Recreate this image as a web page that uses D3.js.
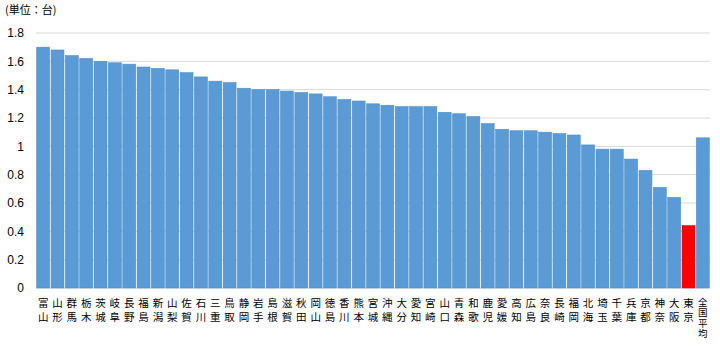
<!DOCTYPE html>
<html>
<head>
<meta charset="utf-8">
<script src="https://cdn.jsdelivr.net/npm/d3@7"></script>
<style>
  body { margin: 0; background: #fff; }
  svg { display: block; }
</style>
</head>
<body>
<div id="chart"></div>
<script>

// Data
const prefectures = ['富山', '山形', '群馬', '栃木', '茨城', '岐阜', '長野', '福島', '新潟', '山梨',
  '佐賀', '石川', '三重', '鳥取', '静岡', '岩手', '島根', '滋賀', '秋田', '岡山',
  '徳島', '香川', '熊本', '宮城', '沖縄', '大分', '愛知', '宮崎', '山口', '青森',
  '和歌', '鹿児', '愛媛', '高知', '広島', '奈良', '長崎', '福岡', '北海', '埼玉',
  '千葉', '兵庫', '京都', '神奈', '大阪', '東京', '全国平均'];
const cars = [1.70, 1.68, 1.64, 1.62, 1.60, 1.59, 1.58, 1.56, 1.55, 1.54,
  1.52, 1.49, 1.46, 1.45, 1.41, 1.40, 1.40, 1.39, 1.38, 1.37,
  1.35, 1.33, 1.32, 1.30, 1.29, 1.28, 1.28, 1.28, 1.24, 1.23,
  1.21, 1.16, 1.12, 1.11, 1.11, 1.10, 1.09, 1.08, 1.01, 0.98,
  0.98, 0.91, 0.83, 0.71, 0.64, 0.44, 1.06];
const yTicks = [0, 0.2, 0.4, 0.6, 0.8, 1, 1.2, 1.4, 1.6, 1.8];
const highlight = '東京';

// Page Dimensions
const width = 720;
const height = 346;
const margin = {top: 33, right: 10, bottom: 58, left: 36};

const svg = d3.select('div#chart').append('svg')
  .attr('width', width)
  .attr('height', height);

const x = d3.scaleBand()
  .domain(prefectures)
  .range([margin.left, width - margin.right])
  .paddingInner(0.1)
  .paddingOuter(0.05);

const y = d3.scaleLinear()
  .domain([0, 1.8])
  .range([height - margin.bottom, margin.top]);

// Gridlines
svg.append('g')
  .selectAll('line')
  .data(yTicks)
  .enter()
  .append('line')
  .attr('x1', margin.left)
  .attr('x2', width - margin.right)
  .attr('y1', d => y(d))
  .attr('y2', d => y(d))
  .style('stroke', '#d9d9d9')
  .style('stroke-width', 1);

// Y axis labels
const yAxis = svg.append('g')
  .attr('transform', `translate(${margin.left},0)`)
  .call(d3.axisLeft(y).tickValues(yTicks).tickSize(0).tickPadding(12).tickFormat(d3.format('~g')));
yAxis.select('.domain').remove();
yAxis.selectAll('text')
  .attr('font-family', 'Liberation Sans, Arial, sans-serif')
  .attr('font-size', 12)
  .attr('fill', '#000');

// Bars
svg.append('g')
  .selectAll('rect')
  .data(prefectures)
  .enter()
  .append('rect')
  .attr('x', d => x(d))
  .attr('width', x.bandwidth())
  .attr('y', (d, i) => y(cars[i]))
  .attr('height', (d, i) => y(0) - y(cars[i]))
  .style('fill', d => d === highlight ? '#ff0000' : '#5b9bd5')
  .style('stroke', d => d === highlight ? '#e00000' : '#4a8dcc')
  .style('stroke-width', 0.6);

// X labels (one character per line)
const labels = svg.append('g')
  .selectAll('text')
  .data(prefectures)
  .enter()
  .append('text')
  .attr('x', d => x(d) + x.bandwidth() / 2)
  .attr('y', d => d.length > 2 ? 305.5 : 307)
  .attr('text-anchor', 'middle')
  .attr('font-family', 'Noto Sans CJK JP, sans-serif')
  .attr('font-size', d => d.length > 2 ? 9.5 : 10.5)
  .attr('fill', '#000');

labels.selectAll('tspan')
  .data(d => d.split('').map(c => ({c: c, step: d.length > 2 ? 10.6 : 13.5})))
  .enter()
  .append('tspan')
  .attr('x', function() { return d3.select(this.parentNode).attr('x'); })
  .attr('dy', (t, i) => i === 0 ? 0 : t.step)
  .text(t => t.c);

// Unit label
svg.append('text')
  .attr('x', 5)
  .attr('y', 14)
  .attr('font-family', 'Noto Sans CJK JP, sans-serif')
  .attr('font-size', 11)
  .attr('fill', '#000')
  .text('(単位：台)');

</script>
</body>
</html>
